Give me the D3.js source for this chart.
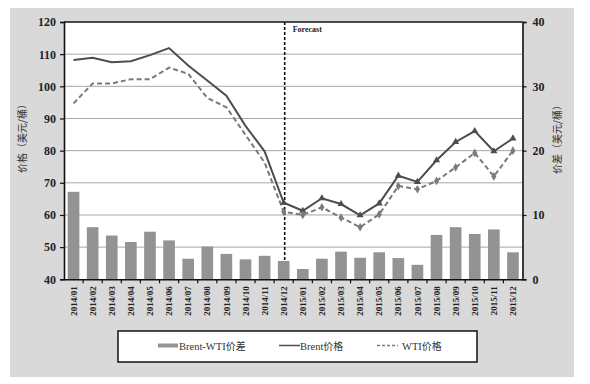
<!DOCTYPE html>
<html><head><meta charset="utf-8">
<script src="https://cdn.jsdelivr.net/npm/d3@7"></script>
<style>body{margin:0;background:#fff}svg{display:block}</style>
</head><body>
<script>
const categories = ["2014/01","2014/02","2014/03","2014/04","2014/05","2014/06","2014/07","2014/08","2014/09","2014/10","2014/11","2014/12",
"2015/01","2015/02","2015/03","2015/04","2015/05","2015/06","2015/07","2015/08","2015/09","2015/10","2015/11","2015/12"];
const spread = [13.6,8.1,6.8,5.8,7.4,6.05,3.2,5.1,3.95,3.1,3.65,2.85,1.6,3.2,4.3,3.35,4.2,3.3,2.25,6.9,8.1,7.05,7.75,4.2];
const brent = [108.2,108.9,107.5,107.8,109.7,111.9,106.5,101.8,97.1,87.7,79.8,63.8,61.3,65.2,63.4,59.9,63.6,72.2,70.3,77.0,82.7,86.1,79.8,83.8];
const wti = [94.7,100.9,100.9,102.2,102.2,105.8,103.9,96.4,93.5,84.9,76.3,61.0,60.0,62.4,59.2,56.2,60.2,69.0,68.0,70.6,74.8,79.3,72.0,80.0];
const leftTicks = [40,50,60,70,80,90,100,110,120];
const rightTicks = [0,10,20,30,40];
const forecastStart = "2014/12";
const markerStart = 11;

const W=590,H=384;
const svg=d3.select("body").append("svg").attr("width",W).attr("height",H);
const serif="'Liberation Serif','Times New Roman',serif";
const cjk="'Noto Sans CJK SC',sans-serif";

svg.append("rect").attr("x",10).attr("y",8).attr("width",564).attr("height",369).attr("fill","#d9d9d9");

const m={l:64,r:522.5,t:22,b:279.3};
svg.append("rect").attr("x",m.l).attr("y",m.t).attr("width",m.r-m.l).attr("height",m.b-m.t).attr("fill","#fff");

const x=d3.scaleBand().domain(categories).range([m.l,m.r]).paddingInner(0.39).paddingOuter(0.195);
const xc=d=>x(d)+x.bandwidth()/2;
const yL=d3.scaleLinear().domain([40,120]).range([m.b,m.t]);
const yR=d3.scaleLinear().domain([0,40]).range([m.b,m.t]);

// gridlines
svg.append("g").selectAll("line").data(leftTicks.slice(1,-1)).join("line")
 .attr("x1",m.l).attr("x2",m.r).attr("y1",d=>yL(d)).attr("y2",d=>yL(d))
 .attr("stroke","#a6a6a6").attr("stroke-width",1);

// forecast line
svg.append("line").attr("x1",xc(forecastStart)+1).attr("x2",xc(forecastStart)+1).attr("y1",m.t).attr("y2",m.b)
 .attr("stroke","#111").attr("stroke-width",1.6).attr("stroke-dasharray","3,2");
svg.append("text").attr("x",xc(forecastStart)+9).attr("y",32).text("Forecast")
 .attr("font-family",serif).attr("font-weight","bold").attr("font-size",8).attr("fill","#222");

// bars
svg.append("g").selectAll("rect").data(categories).join("rect")
 .attr("x",d=>x(d)).attr("width",x.bandwidth())
 .attr("y",(d,i)=>yR(spread[i])).attr("height",(d,i)=>yR(0)-yR(spread[i]))
 .attr("fill","#939393");

// lines
const lineB=d3.line().x((d,i)=>xc(categories[i])).y(d=>yL(d));
svg.append("path").attr("d",lineB(brent)).attr("fill","none").attr("stroke","#4d4d4d").attr("stroke-width",2);
svg.append("path").attr("d",lineB(wti)).attr("fill","none").attr("stroke","#7a7a7a").attr("stroke-width",2).attr("stroke-dasharray","5,3");

// markers
const tri=d3.symbol().type(d3.symbolTriangle).size(22);
const dia=d3.symbol().type(d3.symbolDiamond).size(22);
svg.append("g").selectAll("path").data(brent.map((v,i)=>[i,v]).filter(d=>d[0]>=markerStart)).join("path")
 .attr("d",tri).attr("transform",d=>`translate(${xc(categories[d[0]])},${yL(d[1])})`).attr("fill","#4d4d4d");
svg.append("g").selectAll("path").data(wti.map((v,i)=>[i,v]).filter(d=>d[0]>=markerStart)).join("path")
 .attr("d",dia).attr("transform",d=>`translate(${xc(categories[d[0]])},${yL(d[1])})`).attr("fill","#7a7a7a");

// frame top
svg.append("line").attr("x1",m.l).attr("x2",m.r).attr("y1",m.t).attr("y2",m.t).attr("stroke","#111").attr("stroke-width",1.5);

// axes
const axL=svg.append("g").attr("transform",`translate(${m.l},0)`).call(d3.axisLeft(yL).tickValues(leftTicks).tickSize(4).tickPadding(4));
const axR=svg.append("g").attr("transform",`translate(${m.r},0)`).call(d3.axisRight(yR).tickValues(rightTicks).tickSize(4).tickPadding(6));
const axB=svg.append("g").attr("transform",`translate(0,${m.b})`).call(d3.axisBottom(x).tickSize(0).tickPadding(0));
[axL,axR,axB].forEach(a=>{a.select(".domain").attr("stroke","#111").attr("stroke-width",1.6);a.selectAll(".tick line").attr("stroke","#111").attr("stroke-width",1.2);});
[axL,axR].forEach(a=>a.selectAll("text").attr("font-family",serif).attr("font-weight","bold").attr("font-size",12).attr("fill","#222"));
axB.selectAll(".tick text").attr("font-family",serif).attr("font-weight","bold").attr("font-size",9).attr("fill","#222")
 .attr("transform","rotate(-90)").attr("text-anchor","end").attr("x",-7).attr("y",0).attr("dy","0.35em");
// bottom ticks between bands
svg.append("g").selectAll("line").data(categories.slice(1)).join("line")
 .attr("x1",d=>x(d)-x.step()*x.paddingInner()/2).attr("x2",d=>x(d)-x.step()*x.paddingInner()/2)
 .attr("y1",m.b).attr("y2",m.b+4).attr("stroke","#111").attr("stroke-width",1.2);

// axis titles
svg.append("text").attr("transform",`translate(26,136) rotate(-90)`).attr("text-anchor","middle")
 .attr("font-family",cjk).attr("font-size",10).attr("fill","#333").text("价格（美元/桶）");
svg.append("text").attr("transform",`translate(561,137) rotate(-90)`).attr("text-anchor","middle")
 .attr("font-family",cjk).attr("font-size",10).attr("fill","#333").text("价差（美元/桶）");

// legend
svg.append("rect").attr("x",118).attr("y",331).attr("width",359).attr("height",31).attr("fill","#fff").attr("stroke","#111").attr("stroke-width",1.5);
const leg=[{t:"Brent-WTI价差",k:"bar",x:158},{t:"Brent价格",k:"line",x:279},{t:"WTI价格",k:"dash",x:377}];
const lg=svg.append("g").selectAll("g").data(leg).join("g");
lg.each(function(d){
  const g=d3.select(this);
  if(d.k==="bar") g.append("rect").attr("x",d.x).attr("y",343.5).attr("width",20).attr("height",4).attr("fill","#939393");
  else g.append("line").attr("x1",d.x).attr("x2",d.x+21).attr("y1",345.5).attr("y2",345.5)
     .attr("stroke",d.k==="line"?"#4d4d4d":"#7a7a7a").attr("stroke-width",1.5).attr("stroke-dasharray",d.k==="dash"?"3,2":null);
  const tx=g.append("text").attr("x",d.x+(d.k==="bar"?21:d.k==="line"?21:25)).attr("y",349.5).attr("font-size",10.5).attr("fill","#333");
  const m2=d.t.match(/^([A-Za-z\-]+)(.*)$/);
  tx.append("tspan").attr("font-family",serif).text(m2[1]);
  tx.append("tspan").attr("font-family",cjk).attr("font-size",10).text(m2[2]);
});
</script>
</body></html>
